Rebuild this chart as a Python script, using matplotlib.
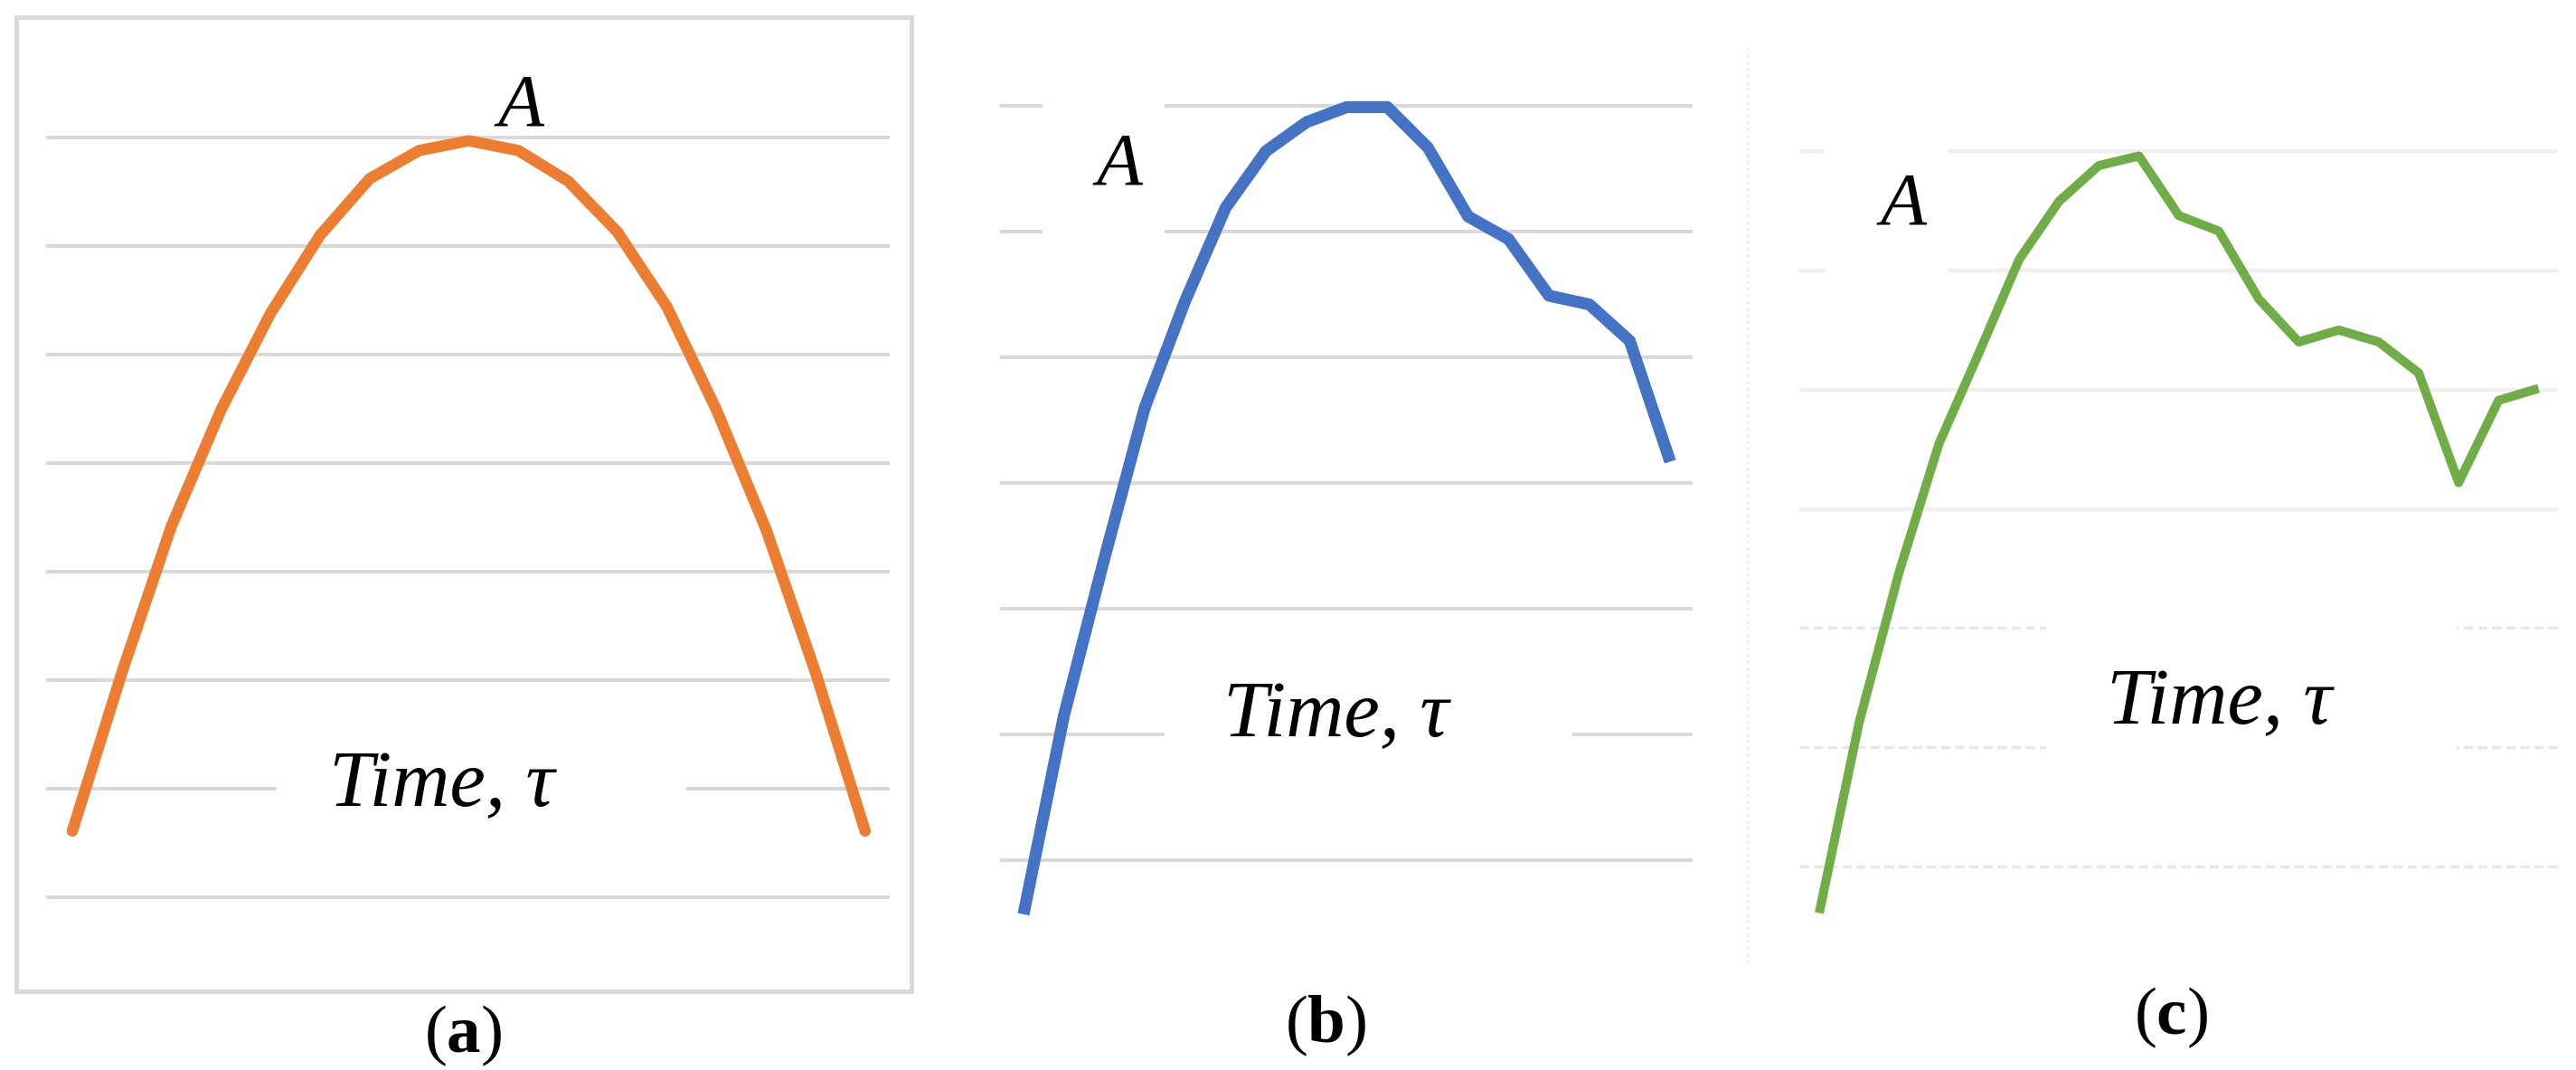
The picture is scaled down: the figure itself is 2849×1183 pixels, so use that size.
import numpy as np
import matplotlib
matplotlib.use('Agg')
import matplotlib.pyplot as plt
from matplotlib.patches import Rectangle
from matplotlib.lines import Line2D

plt.rcParams['font.family'] = ['Liberation Serif', 'DejaVu Serif']
plt.rcParams['mathtext.fontset'] = 'custom'
plt.rcParams['mathtext.rm'] = 'Liberation Serif'
plt.rcParams['mathtext.bf'] = 'Liberation Serif:bold'

W, H = 2849, 1183

# values (gridline units)
a_vals = [0.61, 2.07, 3.42, 4.49, 5.38, 6.10, 6.62, 6.88, 6.97, 6.88, 6.60, 6.13, 5.44, 4.49, 3.39, 2.07, 0.61]
b_vals = [-0.43, 1.15, 2.40, 3.60, 4.45, 5.19, 5.64, 5.87, 5.99, 5.99, 5.67, 5.12, 4.94, 4.49, 4.42, 4.13, 3.17]
c_vals = [-0.39, 1.21, 2.47, 3.55, 4.31, 5.09, 5.58, 5.88, 5.96, 5.46, 5.33, 4.76, 4.40, 4.50, 4.40, 4.14, 3.22, 3.91, 4.01]

a_grid = [0, 1, 2, 3, 4, 5, 6, 7]
b_grid = [0, 1, 2, 3, 4, 5, 6]
c_grid_solid = [3, 4, 5, 6]
c_grid_dotted = [0, 1, 2]

panel_labels = ['a', 'b', 'c']
peak_label = 'A'
time_label = 'Time, \u03c4'

ORANGE = '#ED7D31'
BLUE = '#4472C4'
GREEN = '#70AD47'


def make_axes(fig, x0, dx, y0, dy, xlim, ylim):
    # x0/y0: pixel of data 0, dx/dy: pixels per data unit
    left = x0 + xlim[0] * dx
    right = x0 + xlim[1] * dx
    top = y0 - ylim[1] * dy
    bottom = y0 - ylim[0] * dy
    ax = fig.add_axes([left / W, 1 - bottom / H, (right - left) / W, (bottom - top) / H])
    ax.set_xlim(xlim)
    ax.set_ylim(ylim)
    ax.axis('off')
    return ax


def gap(ax, x1, x2, y1, y2):
    ax.add_patch(Rectangle((x1, y1), x2 - x1, y2 - y1, facecolor='white',
                           edgecolor='none', zorder=2))


fig = plt.figure(figsize=(W / 100, H / 100), dpi=100)

# ---- (a)
xa = (-0.53, 16.5)
ax1 = make_axes(fig, 80, 54.8, 992, 120, xa, (-0.8, 7.6))
ax1.hlines(a_grid, xa[0], xa[1], colors='#d9d9d9', linewidth=2.9, zorder=1)
gap(ax1, 4.12, 12.39, 0.6, 1.4)
ax1.plot(np.arange(len(a_vals)), a_vals, color=ORANGE, linewidth=9,
         solid_capstyle='round', solid_joinstyle='round', zorder=3, clip_on=False)
ax1.text(9.05, 7.28, peak_label, style='italic', fontsize=60, ha='center', va='center', zorder=4)
ax1.text(7.46, 1.02, time_label, style='italic', fontsize=64, ha='center', va='center', zorder=4)
fig.add_artist(Rectangle((18 / W, 1 - 1096 / H), 990 / W, 1077 / H, transform=fig.transFigure,
                         facecolor='none', edgecolor='#d9d9d9', linewidth=3.6))

# ---- (b)
xb = (-0.58, 16.55)
ax2 = make_axes(fig, 1132, 44.7, 951, 139, xb, (-0.6, 6.4))
ax2.hlines(b_grid, xb[0], xb[1], colors='#d9d9d9', linewidth=2.9, zorder=1)
gap(ax2, 3.49, 13.58, 0.6, 1.4)
gap(ax2, 0.47, 3.49, 4.6, 6.3)
ax2.plot(np.arange(len(b_vals)), b_vals, color=BLUE, linewidth=9.5,
         solid_capstyle='butt', solid_joinstyle='round', zorder=3, clip_on=False)
ax2.text(2.37, 5.52, peak_label, style='italic', fontsize=60, ha='center', va='center', zorder=4)
ax2.text(7.72, 1.14, time_label, style='italic', fontsize=64, ha='center', va='center', zorder=4)

# ---- (c)
xc = (-0.5, 18.48)
ax3 = make_axes(fig, 2012, 44.2, 958, 131.8, xc, (-0.6, 6.4))
ax3.hlines(c_grid_solid, xc[0], xc[1], colors='#efefef', linewidth=3.2, zorder=1)
ax3.hlines(c_grid_dotted, xc[0], xc[1], colors='#e8e8e8', linewidth=2.5,
           linestyles=(0, (3, 1.5)), zorder=1)
gap(ax3, 5.68, 15.95, 0.6, 2.4)
gap(ax3, 0.14, 3.21, 4.6, 6.3)
ax3.plot(np.arange(len(c_vals)), c_vals, color=GREEN, linewidth=7.2,
         solid_capstyle='butt', solid_joinstyle='round', zorder=3, clip_on=False)
ax3.text(2.10, 5.54, peak_label, style='italic', fontsize=60, ha='center', va='center', zorder=4)
ax3.text(10.02, 1.36, time_label, style='italic', fontsize=64, ha='center', va='center', zorder=4)

# faint dotted separator between (b) and (c)
fig.add_artist(Line2D([1933 / W, 1933 / W], [1 - 53 / H, 1 - 1067 / H], transform=fig.transFigure,
                      color='#eeeeee', linewidth=2, linestyle=':'))

# panel captions
for lab, (px, py) in zip(panel_labels, [(512, 1145), (1466, 1134), (2401, 1125)]):
    fig.text(px / W, 1 - py / H, '($\\mathbf{' + lab + '}$)', fontsize=54,
             ha='center', va='center')

fig.savefig('out.png', dpi=100)
